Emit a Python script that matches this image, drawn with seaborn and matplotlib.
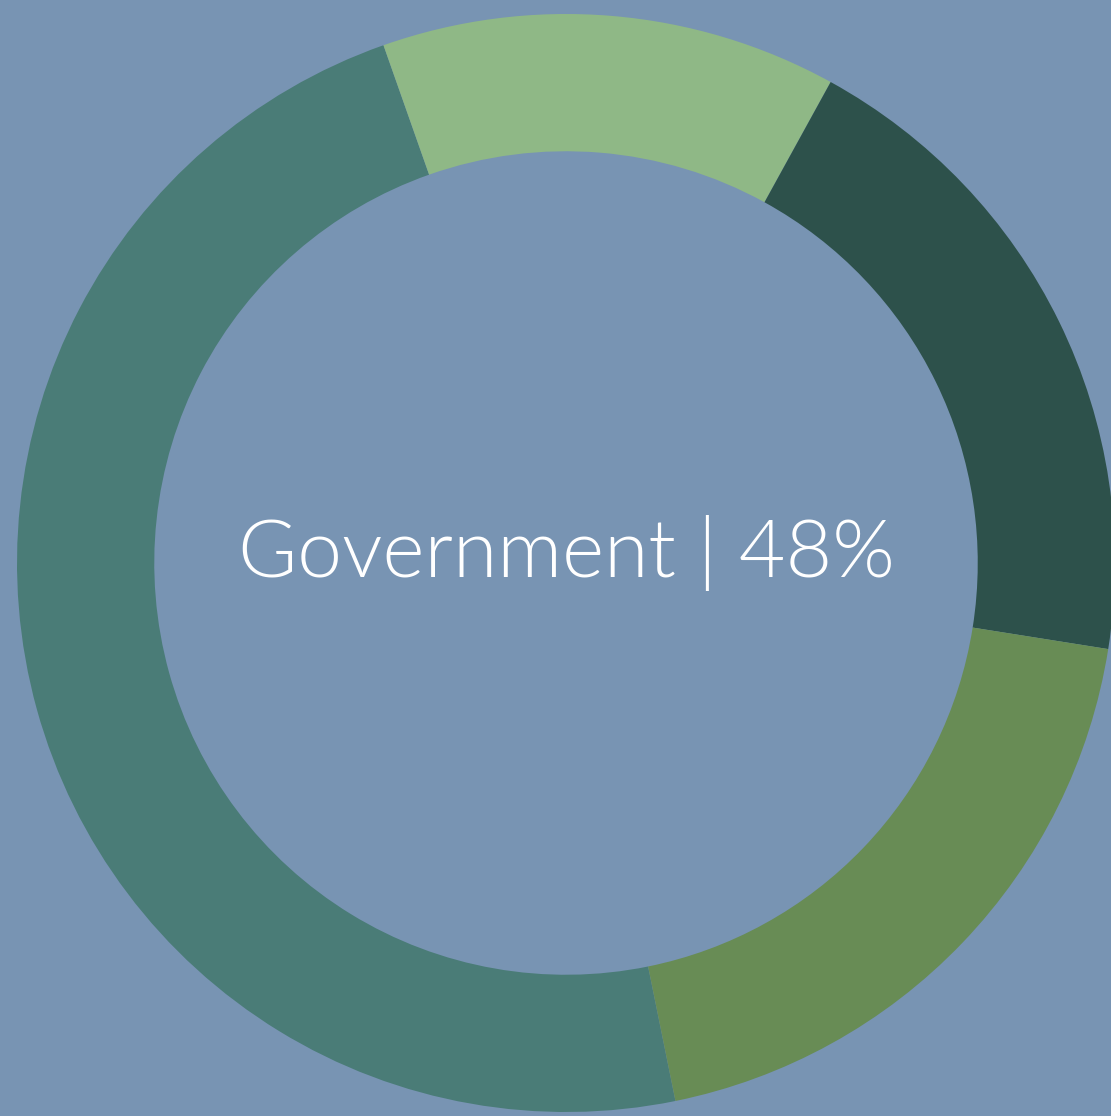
import matplotlib
matplotlib.use("Agg")
import matplotlib.pyplot as plt
import seaborn as sb

# Share of each sector (Government is the highlighted one)
sectors = ["Government", "Sector B", "Sector C", "Sector D"]
shares = [47.8, 13.4, 19.5, 19.3]
colors = ["#4a7c77", "#8fb886", "#2d514b", "#688c55"]
bg = "#7894b3"

sb.set_style("white", {"axes.facecolor": bg, "figure.facecolor": bg})

fig = plt.figure(figsize=(11.11, 11.16), dpi=100)
ax = fig.add_axes([0, 0, 1, 1])
ax.set_facecolor(bg)

# Donut: clockwise from the bottom-right edge of the Government slice
ax.pie(shares, colors=colors, startangle=-78.5, counterclock=False,
       radius=1.0, wedgeprops=dict(width=0.25, linewidth=0))

# Place the ring so it is slightly clipped on the right, like the original
ax.set_xlim(-566 / 549, (1111 - 566) / 549)
ax.set_ylim(-553 / 549, (1116 - 553) / 549)
ax.set_aspect("auto")
ax.axis("off")

ax.text(0, -0.0255, f"{sectors[0]} | {round(shares[0]):.0f}%", ha="center", va="baseline",
        color="white", fontsize=58, family="Lato", fontweight=300)

plt.savefig("out.png", dpi=100, facecolor=bg)
